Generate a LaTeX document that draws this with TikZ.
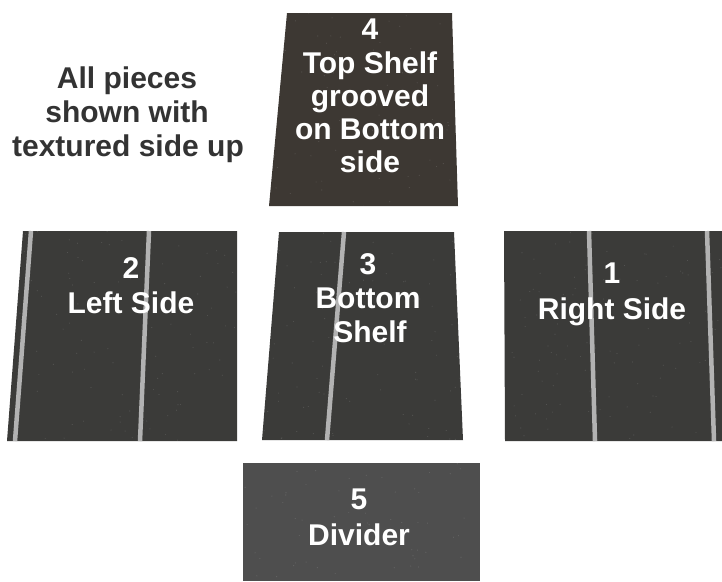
\documentclass[tikz,border=0pt]{standalone}
\usepackage{fontspec}
\setmainfont{Liberation Sans}
\begin{document}
\begin{tikzpicture}[x=1pt,y=-1pt,
  board/.style={fill=boardgray,draw=none},
  groove/.style={draw=groovegray,line width=4.5pt},
  lbl/.style={text=white,font=\bfseries\fontsize{30}{34}\selectfont,anchor=base,inner sep=0pt},
  note/.style={text=notegray,font=\bfseries\fontsize{30}{34}\selectfont,anchor=base,inner sep=0pt},
  speck/.style={fill=white,opacity=0.12}]
\definecolor{boardgray}{HTML}{3B3B39}
\definecolor{topbrown}{HTML}{3D3833}
\definecolor{dividergray}{HTML}{4E4E4E}
\definecolor{groovegray}{HTML}{B2B2B2}
\definecolor{notegray}{HTML}{333333}
\pgfmathsetseed{4711}
\useasboundingbox (0,0) rectangle (722,581);
\fill[white] (0,0) rectangle (722,581);
% piece 4 top shelf
\fill[board,fill=topbrown] (287,13) -- (452,13) -- (458,206) -- (269,206) -- cycle;
% piece 2 left side
\fill[board] (23,231) -- (237,231) -- (237,441) -- (7,441) -- cycle;
% piece 3 bottom shelf
\fill[board] (279,232) -- (454,232) -- (463,440) -- (262,440) -- cycle;
% piece 1 right side
\fill[board] (504,231) -- (722,231) -- (722,441) -- (505,441) -- cycle;
% piece 5 divider
\fill[board,fill=dividergray] (243,463) -- (480,463) -- (480,581) -- (243,581) -- cycle;
% texture specks
\begin{scope}
\clip (287,13) -- (452,13) -- (458,206) -- (269,206) -- cycle
      (23,231) -- (237,231) -- (237,441) -- (7,441) -- cycle
      (279,232) -- (454,232) -- (463,440) -- (262,440) -- cycle
      (504,231) -- (722,231) -- (722,441) -- (505,441) -- cycle
      (243,463) -- (480,463) -- (480,581) -- (243,581) -- cycle;
\foreach \i in {1,...,900}{
  \pgfmathsetmacro{\sx}{722*rnd}
  \pgfmathsetmacro{\sy}{581*rnd}
  \fill[speck] (\sx,\sy) circle (0.6);
}
\end{scope}
% grooves
\draw[groove] (31,231) -- (15,441);
\draw[groove] (149,231) -- (140,441);
\draw[groove] (344,232) -- (327,440);
\draw[groove] (589,231) -- (595,441);
\draw[groove] (707,231) -- (714,441);
% note
\node[note] (n1) at (127,88) {All pieces};
\node[note] (n2) at (127,122) {shown with};
\node[note] (n3) at (128,156) {textured side up};
% labels piece 4
\node[lbl] (t4a) at (370,39) {4};
\node[lbl] (t4b) at (370,73) {Top Shelf};
\node[lbl] (t4c) at (370,106) {grooved};
\node[lbl] (t4d) at (370,139) {on Bottom};
\node[lbl] (t4e) at (370,172) {side};
% piece 2
\node[lbl] (t2a) at (131,278) {2};
\node[lbl] (t2b) at (131,313) {Left Side};
% piece 3
\node[lbl] (t3a) at (368,274) {3};
\node[lbl] (t3b) at (368,308) {Bottom};
\node[lbl] (t3c) at (370,342) {Shelf};
% piece 1
\node[lbl] (t1a) at (612,283) {1};
\node[lbl] (t1b) at (612,319) {Right Side};
% piece 5
\node[lbl] (t5a) at (359,509) {5};
\node[lbl] (t5b) at (359,545) {Divider};
\end{tikzpicture}
\end{document}
